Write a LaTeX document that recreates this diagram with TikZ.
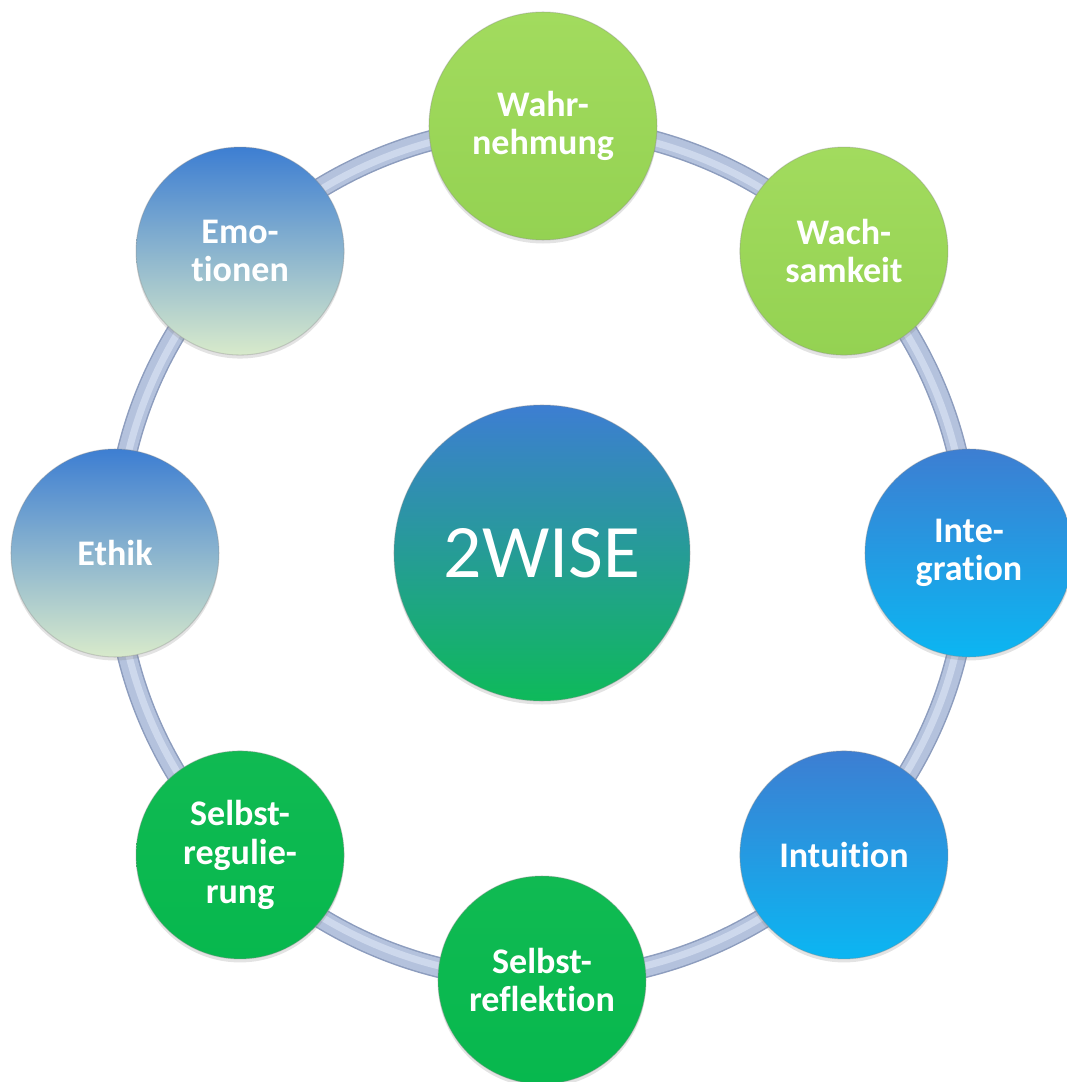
\documentclass[tikz,border=0pt]{standalone}
\usepackage{fontspec}
\setmainfont{Carlito}[Ligatures=NoCommon]
\usetikzlibrary{shadows}

\definecolor{ringdark}{HTML}{8D9DBE}
\definecolor{ringmid}{HTML}{B4C2DD}
\definecolor{ringlight}{HTML}{CDD8EC}
\definecolor{blueTop}{HTML}{3D7ED2}
\definecolor{cyanBot}{HTML}{0BB6F2}
\definecolor{paleBot}{HTML}{D8EACB}
\definecolor{limeTop}{HTML}{A2DB5E}
\definecolor{limeBot}{HTML}{94D252}
\definecolor{greenTop}{HTML}{10BA52}
\definecolor{greenBot}{HTML}{07B84E}
\definecolor{hubBot}{HTML}{0EBA5A}

\tikzset{
  bubble/.style={circle, minimum size=4.16cm, inner sep=0pt, text=white, align=center,
    font=\fontsize{20.5}{22}\selectfont\bfseries,
    draw=black!45, draw opacity=0.35, line width=0.6pt,
    drop shadow={shadow xshift=0pt, shadow yshift=-0.07cm, opacity=0.22}},
  lime/.style={bubble, top color=limeTop, bottom color=limeBot},
  deepgreen/.style={bubble, top color=greenTop, bottom color=greenBot},
  skyblue/.style={bubble, top color=blueTop, bottom color=cyanBot},
  paleblue/.style={bubble, top color=blueTop, bottom color=paleBot},
  hubstyle/.style={bubble, minimum size=5.92cm, top color=blueTop, bottom color=hubBot,
    font=\fontsize{43}{50}\selectfont}
}

\begin{document}
\begin{tikzpicture}
\useasboundingbox (-10.84,-10.58) rectangle (10.48,11.06);

\node[hubstyle] (hub) at (0,0) {2WISE};

% ring behind the satellites
\draw[ringdark, line width=0.42cm] (hub.center) circle (8.54cm);
\draw[ringmid, line width=0.36cm] (hub.center) circle (8.54cm);
\draw[ringlight, line width=0.14cm] (hub.center) circle (8.51cm);

\foreach \ang/\nm/\sty/\txt in {
  45/wach/lime/{Wach-\\samkeit},
  0/integ/skyblue/{Inte-\\gration},
  -45/intu/skyblue/{Intuition},
  -90/sref/deepgreen/{Selbst-\\reflektion},
  -135/sreg/deepgreen/{Selbst-\\regulie-\\rung},
  180/ethik/paleblue/{Ethik},
  135/emo/paleblue/{Emo-\\tionen}}{
	\node[\sty] (\nm) at (\ang:8.54cm) {\txt};
}
\node[lime, minimum size=4.56cm] (wahr) at (0.02,8.54) {Wahr-\\nehmung};
\end{tikzpicture}
\end{document}
